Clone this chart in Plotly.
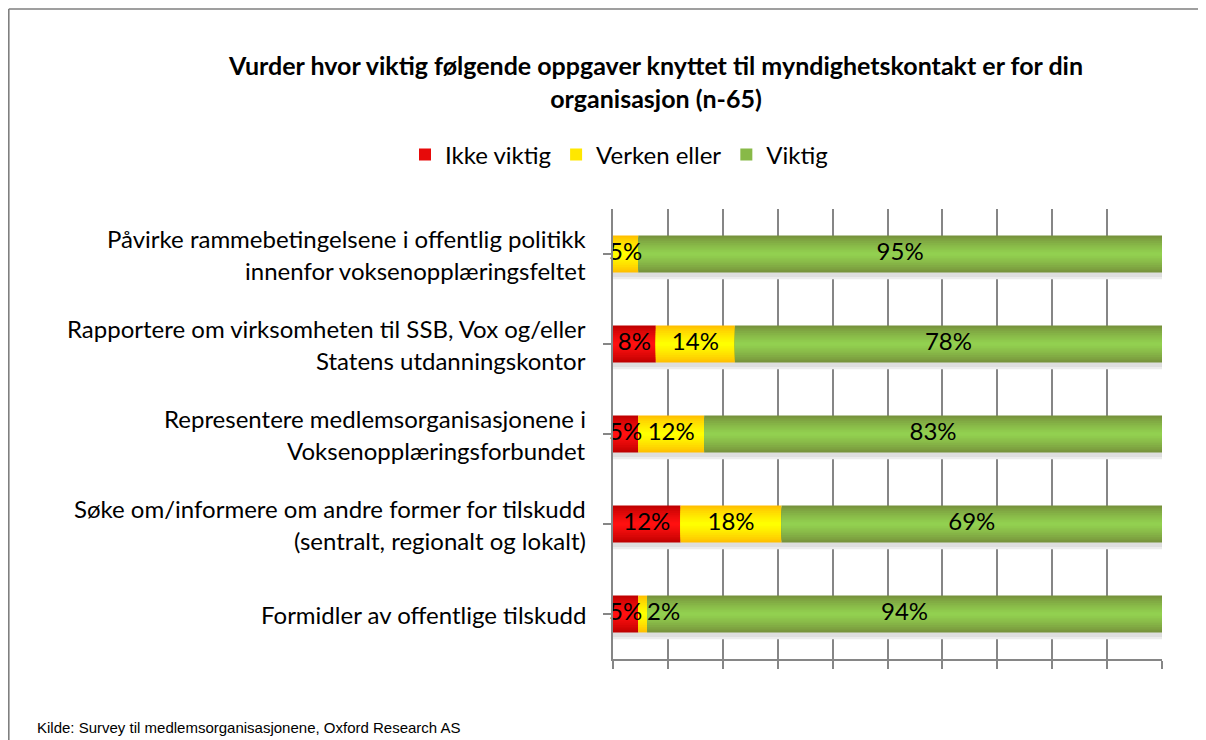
import plotly.graph_objects as go

categories = [
    "Påvirke rammebetingelsene i offentlig politikk\ninnenfor voksenopplæringsfeltet",
    "Rapportere om virksomheten til SSB, Vox og/eller\nStatens utdanningskontor",
    "Representere medlemsorganisasjonene i\nVoksenopplæringsforbundet",
    "Søke om/informere om andre former for tilskudd\n(sentralt, regionalt og lokalt)",
    "Formidler av offentlige tilskudd",
]
series_names = ["Ikke viktig", "Verken eller", "Viktig"]
ikke_viktig = [0, 7.8, 4.6, 12.3, 4.6]
verken_eller = [4.6, 14.4, 12.0, 18.4, 1.6]
viktig = [95.4, 77.8, 83.4, 69.3, 93.8]
labels_ikke = ["", "8%", "5%", "12%", "5%"]
labels_verken = ["5%", "14%", "12%", "18%", "2%"]
labels_viktig = ["95%", "78%", "83%", "69%", "94%"]

title = "<b>Vurder hvor viktig følgende oppgaver knyttet til myndighetskontakt er for din<br>organisasjon (n-65)</b>"
source = "Kilde: Survey til medlemsorganisasjonene, Oxford Research AS"

FONT = "Lato"
GRID = "#868686"

# Figure is placed at (8, 8) on the page by the body margin
W, H = 1198, 732
PL, PR, PT, PB = 605, 1154, 201, 651   # plot area in figure pixels
PW, PH = PR - PL, PB - PT


def px(x):
    return (x - PL) / PW


def py(y):
    return (PB - y) / PH


# gradient: edge colour -> centre colour
grad = {
    "Ikke viktig": ((0xc0, 0x00, 0x00), (0xff, 0x10, 0x10)),
    "Verken eller": ((0xff, 0xc0, 0x00), (0xff, 0xff, 0x00)),
    "Viktig": ((0x77, 0x93, 0x3c), (0x92, 0xd0, 0x50)),
}
NL = 10
BAR_W = 0.41


def mix(a, b, t):
    return "rgb(%d,%d,%d)" % tuple(round(a[i] + (b[i] - a[i]) * t) for i in range(3))


values = [ikke_viktig, verken_eller, viktig]
bases = []
cum = [0] * len(categories)
for v in values:
    bases.append(list(cum))
    cum = [c + x for c, x in zip(cum, v)]
totals = cum

fig = go.Figure()
ypos = list(range(len(categories)))

# soft shadow under the bars
for off, col in [(0.075, "#ececec"), (0.05, "#dedede")]:
    fig.add_trace(go.Bar(
        y=ypos, x=totals, base=[0] * len(totals), orientation="h", width=BAR_W,
        offset=-BAR_W / 2 + off, marker=dict(color=col, line=dict(width=0)),
        showlegend=False, hoverinfo="skip",
    ))

for name, v, b in zip(series_names, values, bases):
    edge, centre = grad[name]
    for i in range(NL):
        t = i / (NL - 1)
        w = BAR_W * (1 - i / NL)
        fig.add_trace(go.Bar(
            y=ypos, x=v, base=b, orientation="h", width=w,
            marker=dict(color=mix(edge, centre, t ** 0.8), line=dict(width=0)),
            name=name, legendgroup=name, showlegend=(i == NL // 2),
            hoverinfo="skip",
        ))

# data labels
for v, b, labs in zip(values, bases, [labels_ikke, labels_verken, labels_viktig]):
    xs_c, ys_c, ts_c = [], [], []
    xs_r, ys_r, ts_r = [], [], []
    for j in range(len(categories)):
        if not labs[j]:
            continue
        if v[j] < 3 and b[j] > 0:
            xs_r.append(b[j] + v[j]); ys_r.append(j); ts_r.append(labs[j])
        else:
            xs_c.append(b[j] + v[j] / 2); ys_c.append(j); ts_c.append(labs[j])
    fig.add_trace(go.Scatter(x=xs_c, y=ys_c, text=ts_c, mode="text",
                             textposition="middle center", showlegend=False,
                             textfont=dict(family=FONT, size=24, color="black"),
                             hoverinfo="skip", cliponaxis=False))
    if xs_r:
        fig.add_trace(go.Scatter(x=xs_r, y=ys_r, text=ts_r, mode="text",
                                 textposition="middle right", showlegend=False,
                                 textfont=dict(family=FONT, size=24, color="black"),
                                 hoverinfo="skip", cliponaxis=False))

annotations = []
for j, cat in enumerate(categories):
    lines = cat.split("\n")
    n = len(lines)
    for k, line in enumerate(lines):
        annotations.append(dict(
            x=px(PL - 25), xref="paper", y=j, yref="y", text=line, showarrow=False,
            xanchor="right", yanchor="middle", yshift=(n - 1) * 16 - k * 32,
            font=dict(family=FONT, size=24, color="black"),
        ))
annotations.append(dict(
    x=px(27), xref="paper", y=py(719), yref="paper",
    text=source, showarrow=False, xanchor="left", yanchor="middle",
    font=dict(family="Liberation Sans", size=15, color="black"),
))

shapes = [
    dict(type="line", xref="paper", yref="paper", x0=px(0.8), x1=px(W),
         y0=py(1), y1=py(1), line=dict(color="#7f7f7f", width=1.6)),
    dict(type="line", xref="paper", yref="paper", x0=px(0.8), x1=px(0.8),
         y0=py(1), y1=py(H + 5), line=dict(color="#7f7f7f", width=1.6)),
]

fig.update_layout(
    width=W, height=H,
    margin=dict(l=PL, r=W - PR, t=PT, b=H - PB, pad=0),
    paper_bgcolor="white", plot_bgcolor="white",
    barmode="overlay",
    title=dict(text=title, x=(648) / W, xanchor="center", y=1 - 67 / H, yanchor="middle",
               font=dict(family=FONT, size=25, color="black")),
    legend=dict(orientation="h", x=px(611), xanchor="center",
                y=py(147), yanchor="middle",
                font=dict(family=FONT, size=24, color="black"),
                tracegroupgap=0),
    xaxis=dict(range=[0, 100], dtick=10, showgrid=True, gridcolor=GRID, gridwidth=1.5,
               showticklabels=False, ticks="outside", ticklen=8, tickcolor=GRID, tickwidth=1.5,
               showline=True, linecolor=GRID, linewidth=1.5, zeroline=False, fixedrange=True),
    yaxis=dict(range=[len(categories) - 0.5, -0.5], tickmode="array", tickvals=ypos,
               showticklabels=False, showgrid=False, ticks="outside", tickson="boundaries",
               ticklen=8, tickcolor=GRID, tickwidth=1.5, showline=True, linecolor=GRID,
               linewidth=1.5, zeroline=False, fixedrange=True),
    annotations=annotations, shapes=shapes,
    showlegend=True,
)

fig.write_html("out.html")
